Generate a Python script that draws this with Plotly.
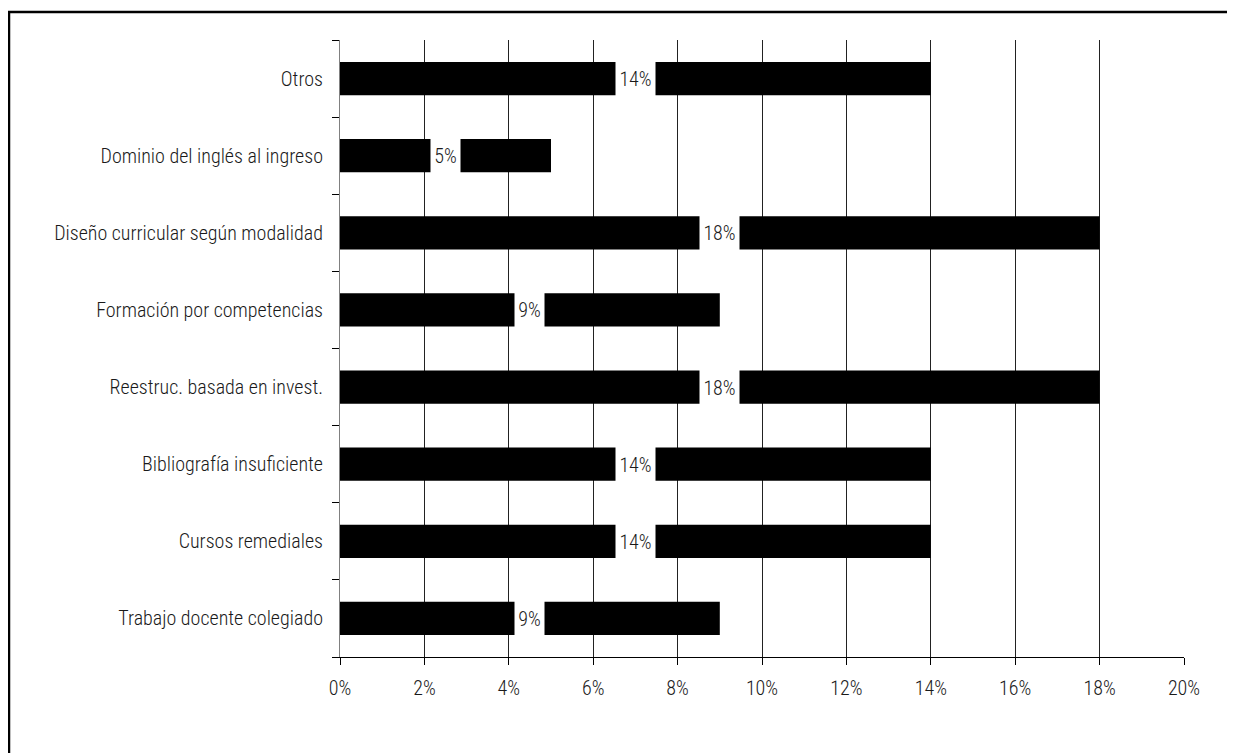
import plotly.graph_objects as go

categories = [
    "Trabajo docente colegiado",
    "Cursos remediales",
    "Bibliografía insuficiente",
    "Reestruc. basada en invest.",
    "Formación por competencias",
    "Diseño curricular según modalidad",
    "Dominio del inglés al ingreso",
    "Otros",
]
values = [9, 14, 14, 18, 9, 18, 5, 14]
labels = ["9%", "14%", "14%", "18%", "9%", "18%", "5%", "14%"]
x_ticks = [0, 2, 4, 6, 8, 10, 12, 14, 16, 18, 20]
x_ticktext = [f"{v}%" for v in x_ticks]

FONT = "Roboto Condensed, Liberation Sans Narrow, Arial Narrow, sans-serif"
FS = 20
FW = 300
TXT = "#1a1a1a"

# page body has an 8px margin; plot area target on screen: x 340..1184, y 40..657
ML, MR, MT, MB = 332, 59, 32, 104
PW, PH = 844, 617

fig = go.Figure()
fig.add_trace(go.Bar(
    x=values, y=categories, orientation="h",
    marker=dict(color="black", line=dict(width=0)),
    width=0.43, hoverinfo="skip",
))

for c, v, t in zip(categories, values, labels):
    fig.add_annotation(
        x=v / 2, y=c, text=t, showarrow=False,
        bgcolor="white", width=10 * len(t) + 9, height=35, borderpad=0,
        font=dict(family=FONT, size=FS, color=TXT, weight=FW),
        xanchor="center", yanchor="middle",
    )

fig.add_shape(
    type="rect", xref="paper", yref="paper",
    x0=(1 - ML) / PW, x1=(1260 - ML) / PW,
    y0=1 - (780 - MT) / PH, y1=1 + (MT - 4) / PH,
    line=dict(color="black", width=2.5), fillcolor="rgba(0,0,0,0)", layer="above",
)

fig.update_layout(
    width=1235, height=753,
    margin=dict(l=ML, r=MR, t=MT, b=MB),
    paper_bgcolor="white", plot_bgcolor="white",
    showlegend=False,
    font=dict(family=FONT, size=FS, color=TXT, weight=FW),
)
fig.update_xaxes(
    range=[0, 20], tickvals=x_ticks, ticktext=x_ticktext,
    showgrid=True, gridcolor="#222222", gridwidth=1,
    showline=True, linecolor="black", linewidth=1,
    ticks="outside", ticklen=7, tickcolor="black",
    zeroline=False, tickfont=dict(family=FONT, size=FS, color=TXT, weight=FW),
    ticklabelstandoff=6, fixedrange=True,
)
fig.update_yaxes(
    categoryorder="array", categoryarray=categories,
    showline=True, linecolor="#808080", linewidth=1,
    ticks="outside", ticklen=7, tickcolor="black", tickson="boundaries",
    showgrid=False, ticklabelstandoff=12,
    tickfont=dict(family=FONT, size=20, color=TXT, weight=FW), fixedrange=True,
)

fig.write_html("out.html")
